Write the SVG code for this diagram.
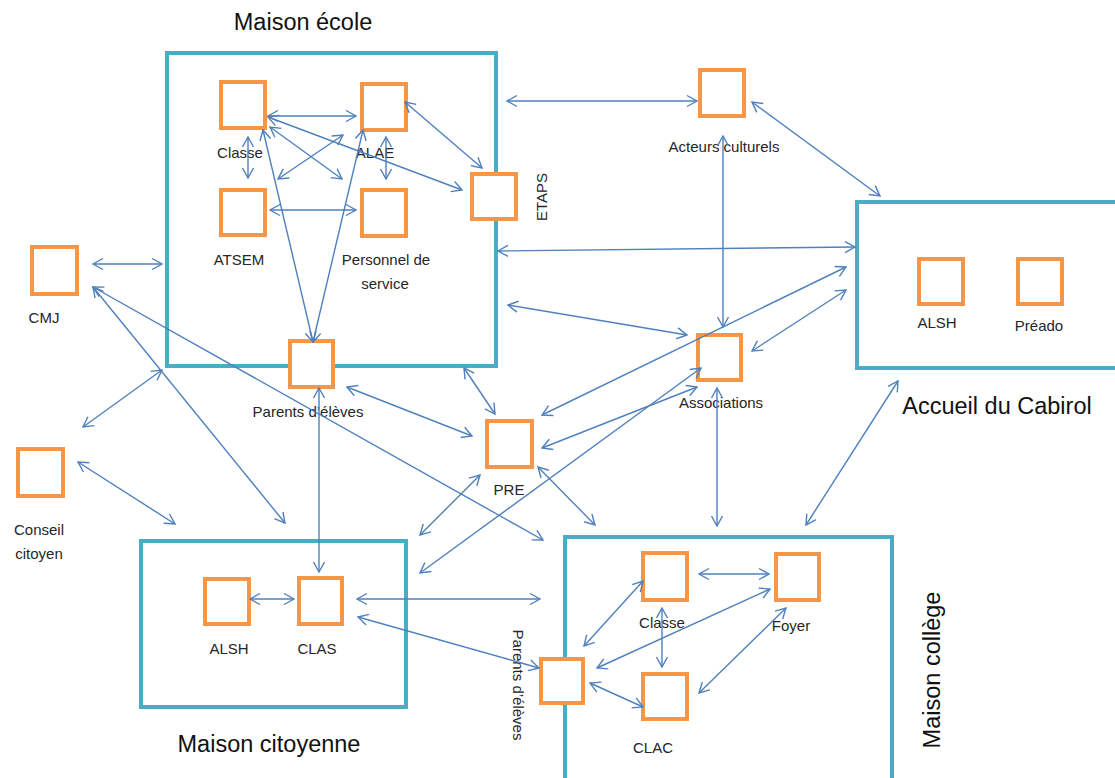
<svg xmlns="http://www.w3.org/2000/svg" width="1115" height="778" viewBox="0 0 1115 778">
<style>
.box{fill:none;stroke:#4bacc6;stroke-width:4}
.n{fill:#fff;stroke:#f79646;stroke-width:4}
.c{stroke:#4f81bd;stroke-width:1.4;fill:none;marker-start:url(#a);marker-end:url(#a)}
.t{font-family:"Liberation Sans",Arial,sans-serif;font-size:15px;fill:#262626;text-anchor:middle}
.h{font-family:"Liberation Sans",Arial,sans-serif;font-size:23.5px;fill:#111;text-anchor:middle}
</style>
<defs>
<marker id="a" viewBox="-12 -7 13 14" markerWidth="13" markerHeight="14" refX="0" refY="0" orient="auto-start-reverse" markerUnits="userSpaceOnUse">
<path d="M-10,-5.5 L0,0 L-10,5.5" fill="none" stroke="#4f81bd" stroke-width="1.4"/>
</marker>
</defs>
<rect width="1115" height="778" fill="#fff"/>

<g id="maison-ecole">
<rect class="box" x="167" y="53" width="329" height="313"/>
<text class="h" x="303" y="30">Maison école</text>
</g>
<g id="accueil-cabirol">
<rect class="box" x="857" y="202" width="270" height="166"/>
<text class="h" x="997" y="414">Accueil du Cabirol</text>
</g>
<g id="maison-citoyenne">
<rect class="box" x="141" y="541" width="265" height="166"/>
<text class="h" x="269" y="752">Maison citoyenne</text>
</g>
<g id="maison-college">
<rect class="box" x="565" y="537" width="327" height="260"/>
<text class="h" transform="translate(940,670) rotate(-90)">Maison collège</text>
</g>

<g id="ecole-classe"><rect class="n" x="221" y="82" width="44" height="46"/><text class="t" x="240" y="158">Classe</text></g>
<g id="ecole-alae"><rect class="n" x="362" y="84" width="44" height="46"/><text class="t" x="375" y="158">ALAE</text></g>
<g id="ecole-atsem"><rect class="n" x="221" y="190" width="44" height="45"/><text class="t" x="239" y="265">ATSEM</text></g>
<g id="ecole-personnel"><rect class="n" x="362" y="190" width="44" height="46"/><text class="t" x="386" y="265">Personnel de</text><text class="t" x="385" y="289">service</text></g>
<g id="ecole-etaps"><rect class="n" x="472" y="174" width="44" height="45"/><text class="t" transform="translate(547,197) rotate(-90)">ETAPS</text></g>
<g id="ecole-parents"><rect class="n" x="290" y="341" width="43" height="46"/><text class="t" x="308" y="417">Parents d’élèves</text></g>
<g id="acteurs-culturels"><rect class="n" x="700" y="70" width="44" height="46"/><text class="t" x="724" y="152">Acteurs culturels</text></g>
<g id="cabirol-alsh"><rect class="n" x="919" y="259" width="44" height="45"/><text class="t" x="937" y="328">ALSH</text></g>
<g id="cabirol-preado"><rect class="n" x="1018" y="259" width="44" height="45"/><text class="t" x="1039" y="331">Préado</text></g>
<g id="associations"><rect class="n" x="698" y="335" width="43" height="45"/><text class="t" x="721" y="408">Associations</text></g>
<g id="pre"><rect class="n" x="487" y="421" width="45" height="46"/><text class="t" x="509" y="495">PRE</text></g>
<g id="cmj"><rect class="n" x="32" y="247" width="45" height="47"/><text class="t" x="44" y="323">CMJ</text></g>
<g id="conseil-citoyen"><rect class="n" x="18" y="449" width="45" height="47"/><text class="t" x="39" y="535">Conseil</text><text class="t" x="39" y="559">citoyen</text></g>
<g id="citoyenne-alsh"><rect class="n" x="205" y="579" width="44" height="45"/><text class="t" x="229" y="654">ALSH</text></g>
<g id="citoyenne-clas"><rect class="n" x="299" y="578" width="43" height="46"/><text class="t" x="317" y="654">CLAS</text></g>
<g id="college-classe"><rect class="n" x="643" y="553" width="44" height="47"/><text class="t" x="662" y="628">Classe</text></g>
<g id="college-foyer"><rect class="n" x="776" y="554" width="43" height="46"/><text class="t" x="791" y="631">Foyer</text></g>
<g id="college-clac"><rect class="n" x="643" y="674" width="44" height="45"/><text class="t" x="653" y="753">CLAC</text></g>
<g id="college-parents"><rect class="n" x="541" y="659" width="42" height="44"/><text class="t" transform="translate(513,685) rotate(90)">Parents d’élèves</text></g>

<g id="connectors">
<line class="c" x1="268" y1="116" x2="356" y2="116"/>
<line class="c" x1="248" y1="137" x2="248" y2="178"/>
<line class="c" x1="386" y1="137" x2="386" y2="179"/>
<line class="c" x1="270" y1="210" x2="356" y2="210"/>
<line class="c" x1="270" y1="127" x2="342" y2="179"/>
<line class="c" x1="278" y1="179" x2="343" y2="135"/>
<line class="c" x1="268" y1="117" x2="462" y2="190"/>
<line class="c" x1="405" y1="102" x2="482" y2="168"/>
<line class="c" x1="263" y1="130" x2="313" y2="342"/>
<line class="c" x1="363" y1="130" x2="313" y2="342"/>
<line class="c" x1="507" y1="101" x2="697" y2="101"/>
<line class="c" x1="752" y1="102" x2="880" y2="196"/>
<line class="c" x1="723" y1="136" x2="723" y2="327"/>
<line class="c" x1="498" y1="251" x2="855" y2="247"/>
<line class="c" x1="508" y1="305" x2="687" y2="335"/>
<line class="c" x1="846" y1="267" x2="542" y2="415"/>
<line class="c" x1="846" y1="290" x2="752" y2="351"/>
<line class="c" x1="542" y1="448" x2="697" y2="387"/>
<line class="c" x1="420" y1="573" x2="701" y2="368"/>
<line class="c" x1="347" y1="387" x2="472" y2="436"/>
<line class="c" x1="464" y1="368" x2="495" y2="414"/>
<line class="c" x1="480" y1="475" x2="420" y2="535"/>
<line class="c" x1="538" y1="467" x2="595" y2="525"/>
<line class="c" x1="93" y1="287" x2="543" y2="540"/>
<line class="c" x1="93" y1="287" x2="285" y2="523"/>
<line class="c" x1="93" y1="264" x2="162" y2="264"/>
<line class="c" x1="83" y1="427" x2="162" y2="370"/>
<line class="c" x1="78" y1="462" x2="175" y2="524"/>
<line class="c" x1="319" y1="388" x2="319" y2="572"/>
<line class="c" x1="250" y1="599" x2="294" y2="599"/>
<line class="c" x1="357" y1="599" x2="540" y2="599"/>
<line class="c" x1="358" y1="617" x2="539" y2="668"/>
<line class="c" x1="717" y1="388" x2="717" y2="526"/>
<line class="c" x1="898" y1="381" x2="806" y2="525"/>
<line class="c" x1="699" y1="574" x2="769" y2="574"/>
<line class="c" x1="662" y1="608" x2="662" y2="667"/>
<line class="c" x1="643" y1="581" x2="584" y2="646"/>
<line class="c" x1="770" y1="589" x2="597" y2="668"/>
<line class="c" x1="786" y1="608" x2="699" y2="693"/>
<line class="c" x1="590" y1="683" x2="643" y2="707"/>
</g>
</svg>
